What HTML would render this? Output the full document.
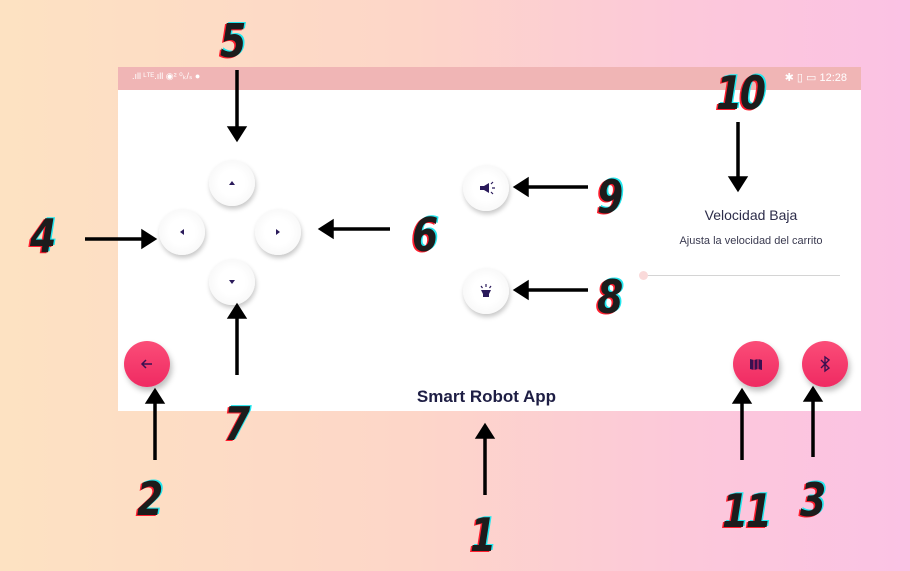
<!DOCTYPE html>
<html><head><meta charset="utf-8"><style>
*{margin:0;padding:0;box-sizing:border-box}
body{width:910px;height:571px;overflow:hidden;position:relative;font-family:"Liberation Sans",sans-serif;background:linear-gradient(90deg,#fde2c2 0%,#fdd6c8 45%,#fcc8da 75%,#fbc2e4 100%)}
.phone{position:absolute;left:118px;top:67px;width:743px;height:344px;background:#fff}
.sb{position:absolute;left:0;top:0;width:100%;height:23px;background:#f0b5b5;color:#fff;font-size:11px}
.btn{position:absolute;width:46px;height:46px;border-radius:50%;background:radial-gradient(circle at 50% 50%,#fff 0,#fff 40%,#f3f3f3 100%);box-shadow:1px 3px 5px rgba(0,0,0,.22)}
.btn svg{position:absolute;left:0;top:0}
.fab{position:absolute;width:46px;height:46px;border-radius:50%;background:linear-gradient(#fb4d78,#ef2a62);box-shadow:2px 4px 6px rgba(0,0,0,.25)}
.fab svg{position:absolute;left:0;top:0}
.n{position:absolute;font-family:"DejaVu Sans",sans-serif;font-weight:bold;font-style:italic;font-size:46px;color:#1c1c1c;text-shadow:-2px 1px 0 #ff1e2e,2px -1px 0 #22e6ee;transform:scaleX(.82);transform-origin:left top;line-height:1;letter-spacing:-3px}
</style></head><body>
<div class="phone">
 <div class="sb"><span style="position:absolute;left:14px;top:4px;font-size:9px">.ıll ᴸᵀᴱ.ıll ◉² ⁰ₖ/ₛ ●</span><span style="position:absolute;right:14px;top:4px">✱ ▯ ▭ 12:28</span></div>
 <div class="btn" style="left:91px;top:93px"><svg width="46" height="46"><path d="M20 25 L23 21 L26 25Z" fill="#2a1a5a"/></svg></div>
 <div class="btn" style="left:41px;top:142px"><svg width="46" height="46"><path d="M25 20 L21 23 L25 26Z" fill="#2a1a5a"/></svg></div>
 <div class="btn" style="left:137px;top:142px"><svg width="46" height="46"><path d="M21 20 L25 23 L21 26Z" fill="#2a1a5a"/></svg></div>
 <div class="btn" style="left:91px;top:192px"><svg width="46" height="46"><path d="M20 21 L26 21 L23 25Z" fill="#2a1a5a"/></svg></div>
 <div class="btn" style="left:345px;top:98px"><svg width="46" height="46"><path d="M17 21h4l5-3v10l-5-3h-4z" fill="#2a1a5a"/><path d="M28 19l2-2M29 23h3M28 27l2 2" stroke="#2a1a5a" stroke-width="1.2"/></svg></div>
 <div class="btn" style="left:345px;top:201px"><svg width="46" height="46"><path d="M18 22h10l-2 4v3h-6v-3z" fill="#2a1a5a"/><path d="M23 16v3M18 18l1.5 2M28 18l-1.5 2" stroke="#2a1a5a" stroke-width="1.2"/></svg></div>
 <div style="position:absolute;left:533px;top:140px;width:200px;text-align:center;font-size:14px;color:#2d2d4a">Velocidad Baja</div>
 <div style="position:absolute;left:523px;top:168px;width:220px;text-align:center;font-size:11px;color:#3a3a50">Ajusta la velocidad del carrito</div>
 <div style="position:absolute;left:525px;top:208px;width:197px;height:1px;background:#d4d4d4"></div>
 <div style="position:absolute;left:521px;top:204px;width:9px;height:9px;border-radius:50%;background:#fadada"></div>
 <div class="fab" style="left:6px;top:274px"><svg width="46" height="46"><path d="M28 23H18M22 19l-4 4 4 4" stroke="#3a1050" stroke-width="1.5" fill="none"/></svg></div>
 <div class="fab" style="left:615px;top:274px"><svg width="46" height="46"><path d="M17 18l4 1 4-1 4 1v10l-4-1-4 1-4-1z" fill="#3a1050"/><path d="M21 19v10M25 18v10" stroke="#ef3066" stroke-width="1"/></svg></div>
 <div class="fab" style="left:684px;top:274px"><svg width="46" height="46"><path d="M19 19l8 8-4 3V16l4 3-8 8" stroke="#3a1050" stroke-width="1.4" fill="none"/></svg></div>
 <div style="position:absolute;left:0;width:100%;top:320px;text-align:center;font-size:17px;font-weight:bold;color:#1e1e44;padding-right:6px">Smart Robot App</div>
</div>
<svg width="910" height="571" style="position:absolute;left:0;top:0">
<g stroke="#000" stroke-width="3.5" fill="#000">
<line x1="237" y1="70" x2="237" y2="130"/><path d="M230 128h14l-7 11z"/>
<line x1="738" y1="122" x2="738" y2="180"/><path d="M731 178h14l-7 11z"/>
<line x1="85" y1="239" x2="145" y2="239"/><path d="M143 232v14l11-7z"/>
<line x1="390" y1="229" x2="330" y2="229"/><path d="M332 222v14l-11-7z"/>
<line x1="588" y1="187" x2="525" y2="187"/><path d="M527 180v14l-11-7z"/>
<line x1="588" y1="290" x2="525" y2="290"/><path d="M527 283v14l-11-7z"/>
<line x1="237" y1="375" x2="237" y2="315"/><path d="M230 317h14l-7-11z"/>
<line x1="155" y1="460" x2="155" y2="400"/><path d="M148 402h14l-7-11z"/>
<line x1="485" y1="495" x2="485" y2="435"/><path d="M478 437h14l-7-11z"/>
<line x1="742" y1="460" x2="742" y2="400"/><path d="M735 402h14l-7-11z"/>
<line x1="813" y1="457" x2="813" y2="398"/><path d="M806 400h14l-7-11z"/>
</g></svg>
<div class="n" style="left:220px;top:18px">5</div>
<div class="n" style="left:716px;top:70px">10</div>
<div class="n" style="left:30px;top:213px">4</div>
<div class="n" style="left:412px;top:212px">6</div>
<div class="n" style="left:597px;top:174px">9</div>
<div class="n" style="left:597px;top:274px">8</div>
<div class="n" style="left:137px;top:476px">2</div>
<div class="n" style="left:224px;top:401px">7</div>
<div class="n" style="left:470px;top:512px">1</div>
<div class="n" style="left:722px;top:488px">11</div>
<div class="n" style="left:800px;top:477px">3</div>
</body></html>
